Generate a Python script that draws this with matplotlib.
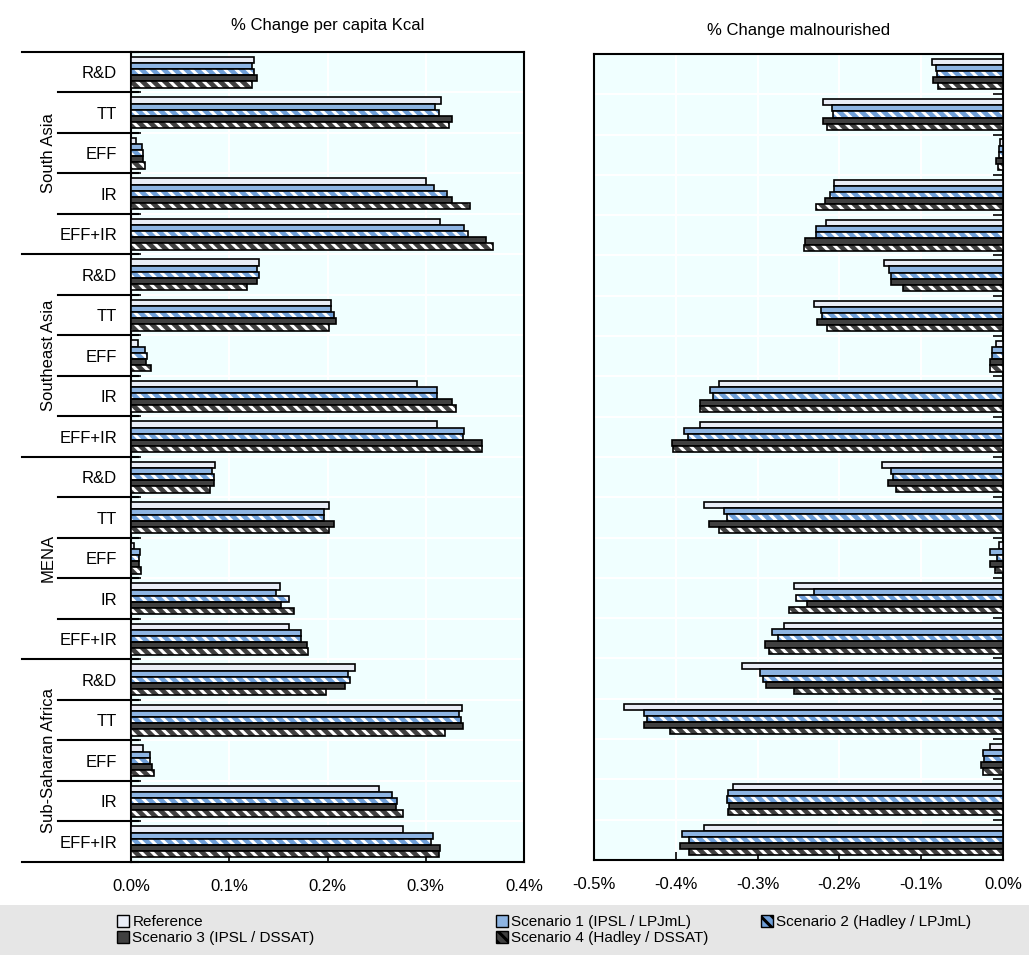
import numpy as np
import matplotlib
matplotlib.use('Agg')
import matplotlib.pyplot as plt
from matplotlib.patches import Patch, Rectangle
import matplotlib.transforms as mtransforms

plt.rcParams['font.family'] = ['Liberation Sans', 'DejaVu Sans']
plt.rcParams['hatch.linewidth'] = 2.2

regions = ['South Asia', 'Southeast Asia', 'MENA', 'Sub-Saharan Africa']
options = ['R&D', 'TT', 'EFF', 'IR', 'EFF+IR']
scenarios = ['Reference', 'Scenario 1 (IPSL / LPJmL)', 'Scenario 2 (Hadley / LPJmL)',
             'Scenario 3 (IPSL / DSSAT)', 'Scenario 4 (Hadley / DSSAT)']

# % change in per capita kcal, rows ordered region by region (R&D, TT, EFF, IR, EFF+IR)
kcal_ref = [0.125, 0.316, 0.005, 0.300, 0.315, 0.130, 0.2035, 0.007, 0.291, 0.311,
            0.0855, 0.202, 0.003, 0.152, 0.161, 0.228, 0.337, 0.012, 0.252, 0.277]
kcal_s1 = [0.123, 0.309, 0.011, 0.308, 0.339, 0.128, 0.2035, 0.014, 0.311, 0.339,
           0.082, 0.196, 0.009, 0.148, 0.173, 0.221, 0.334, 0.019, 0.266, 0.307]
kcal_s2 = [0.125, 0.313, 0.0125, 0.3215, 0.343, 0.130, 0.207, 0.016, 0.311, 0.338,
           0.084, 0.196, 0.0085, 0.161, 0.173, 0.223, 0.336, 0.019, 0.271, 0.3055]
kcal_s3 = [0.1285, 0.327, 0.0125, 0.327, 0.361, 0.1285, 0.209, 0.015, 0.327, 0.357,
           0.084, 0.207, 0.0085, 0.153, 0.179, 0.218, 0.338, 0.021, 0.270, 0.314]
kcal_s4 = [0.123, 0.3235, 0.0145, 0.345, 0.368, 0.118, 0.202, 0.020, 0.331, 0.357,
           0.080, 0.202, 0.0105, 0.166, 0.180, 0.198, 0.320, 0.023, 0.277, 0.313]

# % change in number of malnourished
maln_ref = [-0.087, -0.220, -0.004, -0.207, -0.216, -0.1455, -0.231, -0.008, -0.347, -0.370,
            -0.1475, -0.366, -0.005, -0.255, -0.268, -0.319, -0.463, -0.016, -0.330, -0.366]
maln_s1 = [-0.082, -0.209, -0.0045, -0.207, -0.229, -0.139, -0.2225, -0.014, -0.358, -0.390,
           -0.1365, -0.341, -0.016, -0.231, -0.283, -0.297, -0.439, -0.024, -0.336, -0.392]
maln_s2 = [-0.081, -0.208, -0.0045, -0.212, -0.228, -0.137, -0.221, -0.014, -0.355, -0.3855,
           -0.135, -0.338, -0.007, -0.2535, -0.275, -0.293, -0.435, -0.023, -0.338, -0.3835]
maln_s3 = [-0.085, -0.220, -0.008, -0.218, -0.242, -0.137, -0.227, -0.016, -0.370, -0.405,
           -0.141, -0.360, -0.016, -0.240, -0.291, -0.290, -0.439, -0.027, -0.335, -0.3945]
maln_s4 = [-0.079, -0.215, -0.006, -0.228, -0.243, -0.122, -0.215, -0.016, -0.370, -0.403,
           -0.131, -0.347, -0.010, -0.262, -0.286, -0.256, -0.407, -0.025, -0.336, -0.3835]

kcal = [kcal_ref, kcal_s1, kcal_s2, kcal_s3, kcal_s4]
maln = [maln_ref, maln_s1, maln_s2, maln_s3, maln_s4]

fills = ['#E9EDF6', '#8DB4E2', '#6F9FD8', '#404040', '#404040']
hatches = [None, None, '\\\\\\', None, '\\\\\\']
bg = '#F0FFFF'

n = len(regions) * len(options)
ypos = np.arange(n)
bar_h = 0.152

fig = plt.figure(figsize=(10.29, 9.55), dpi=100)
ax1 = fig.add_axes([131/1029, 1 - 862/955, 393/1029, 810/955])
ax2 = fig.add_axes([594/1029, 1 - 860/955, 409/1029, 806/955])


def draw_bars(ax, series):
    for i, vals in enumerate(series):
        off = (i - 2) * bar_h
        if hatches[i]:
            ax.barh(ypos + off, vals, height=bar_h, color=fills[i], edgecolor='white',
                    hatch=hatches[i], linewidth=0, zorder=3)
            ax.barh(ypos + off, vals, height=bar_h, fill=False, edgecolor='black',
                    linewidth=1.2, zorder=4)
        else:
            ax.barh(ypos + off, vals, height=bar_h, color=fills[i], edgecolor='black',
                    linewidth=1.2, zorder=3)


for ax, series in [(ax1, kcal), (ax2, maln)]:
    ax.set_facecolor(bg)
    draw_bars(ax, series)
    ax.set_ylim(n - 0.5, -0.5)
    bounds = np.arange(n + 1) - 0.5
    for b in bounds[1:-1]:
        ax.axhline(b, color='white', lw=1.5, zorder=1)
    ax.set_yticks(bounds)
    ax.set_yticklabels([])
    ax.tick_params(axis='y', which='major', direction='in', length=7, width=1.2)
    ax.tick_params(axis='x', direction='in', length=6, width=1.2, labelsize=12, pad=12)
    for s in ax.spines.values():
        s.set_linewidth(1.5)

# per capita kcal panel
ax1.set_xlim(0, 0.4)
xt1 = [0.0, 0.1, 0.2, 0.3, 0.4]
ax1.set_xticks(xt1)
ax1.set_xticklabels(['%.1f%%' % v for v in xt1])
for v in xt1[1:-1]:
    ax1.axvline(v, color='white', lw=1.5, zorder=1)
ax1.set_yticks(ypos, minor=True)
ax1.set_yticklabels(options * len(regions), minor=True, fontsize=12)
ax1.tick_params(axis='y', which='minor', length=0, pad=10)
ax1.set_title('% Change per capita Kcal', fontsize=12, pad=16)

# separators and region names left of the axis
trans = mtransforms.blended_transform_factory(ax1.transAxes, ax1.transData)
for k in range(n + 1):
    y = k - 0.5
    x0 = -0.277 if k % len(options) == 0 else -0.186
    ax1.plot([x0, 0.018], [y, y], color='black', lw=1.5, transform=trans, clip_on=False, zorder=5)
for r, name in enumerate(regions):
    yc = r * len(options) + (len(options) - 1) / 2
    ax1.text(-0.211, yc, name, rotation=90, ha='center', va='center', fontsize=12, transform=trans)

# malnourished panel
ax2.set_xlim(-0.5, 0)
xt2 = [-0.5, -0.4, -0.3, -0.2, -0.1, 0.0]
ax2.set_xticks(xt2)
ax2.set_xticklabels(['%.1f%%' % v for v in xt2])
for v in xt2[1:-1]:
    ax2.axvline(v, color='white', lw=1.5, zorder=1)
ax2.yaxis.tick_right()
ax2.tick_params(axis='y', which='major', direction='in', length=7, width=1.2, labelright=False)
ax2.set_title('% Change malnourished', fontsize=12, pad=14)

# legend band
fig.patches.append(Rectangle((0, 0), 1, 50/955, transform=fig.transFigure,
                             facecolor='#E6E6E6', edgecolor='none', zorder=0))


def handle(i):
    return Patch(facecolor=fills[i], edgecolor='black', hatch=hatches[i], linewidth=1)


plt.rcParams['hatch.color'] = 'white'
cols = [(108, [0, 3]), (487, [1, 4]), (752, [2])]
for x, idx in cols:
    fig.legend([handle(i) for i in idx], [scenarios[i] for i in idx],
               loc='upper left', bbox_to_anchor=(x/1029, 1 - 906/955), ncol=1,
               frameon=False, fontsize=11, handlelength=0.8, handleheight=0.8,
               handletextpad=0.2, labelspacing=0.1, borderpad=0.1)

fig.savefig('out.png', dpi=100)
